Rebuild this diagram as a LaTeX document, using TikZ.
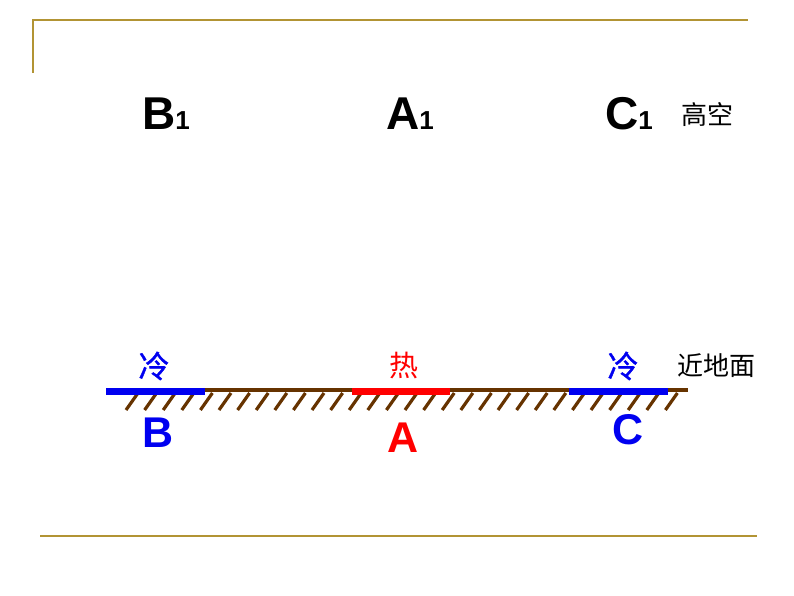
\documentclass[tikz,border=0pt]{standalone}
\usepackage{fontspec}
\setmainfont{Liberation Sans}
\newfontfamily\cjk{Noto Sans CJK SC}
\newfontfamily\cjkbold[FakeBold=1.2]{Noto Sans CJK SC}
\usepackage{tikz}
\usetikzlibrary{positioning}
\definecolor{FrameGold}{RGB}{178,148,52}
\definecolor{GroundBrown}{RGB}{102,51,0}
\definecolor{ColdBlue}{RGB}{0,0,240}
\definecolor{HotRed}{RGB}{255,0,0}
\pgfdeclarelayer{background}
\pgfsetlayers{background,main}

\begin{document}
\begin{tikzpicture}[x=1pt, y=-1pt]

    \useasboundingbox (0,0) rectangle (794,596);

    % Frame of the slide
    \tikzset{fr/.style={draw=FrameGold, line width=1.6pt}}

    % Upper level labels
    \tikzset{up/.style={inner sep = 0pt, font = \fontsize{46}{46}\selectfont\bfseries}}
    \tikzset{cn/.style={inner sep = 0pt, font = \fontsize{26}{26}\selectfont\cjk}}

    % Ground labels
    \tikzset{lowC/.style={inner sep = 0pt, text = ColdBlue, font = \fontsize{43}{43}\selectfont\bfseries}}
    \tikzset{lowH/.style={lowC, text = HotRed}}
    \tikzset{tC/.style={inner sep = 0pt, text = ColdBlue, font = \fontsize{31}{31}\selectfont\cjkbold}}
    \tikzset{tH/.style={tC, text = HotRed, font = \fontsize{29}{29}\selectfont\cjk}}

    % Ground and surfaces
    \tikzset{gr/.style={draw=GroundBrown, line width=4pt}}
    \tikzset{ht/.style={draw=GroundBrown, line width=3.2pt}}
    \tikzset{sC/.style={draw=ColdBlue, line width=7pt}}
    \tikzset{sH/.style={draw=HotRed, line width=7pt}}

    % Frame corners
    \coordinate (fTL) at (33, 20);
    \coordinate (fTR) at (748, 20);
    \coordinate (fBL) at (33, 73);
    \coordinate (lL) at (40, 536);
    \coordinate (lR) at (757, 536);

    % Upper level
    \node (b1) [up] at (166, 114) {B{\fontsize{26}{26}\selectfont 1}};
    \node (a1) [up] at (410, 114) {A{\fontsize{26}{26}\selectfont 1}};
    \node (c1) [up] at (629, 114) {C{\fontsize{26}{26}\selectfont 1}};
    \node (gaokong) [cn] at (707, 115) {高空};

    % Ground level
    \coordinate (gL) at (107, 390);
    \coordinate (gR) at (688, 390);
    \coordinate (bL) at (106, 391);
    \coordinate (bR) at (205, 391);
    \coordinate (aL) at (352, 391);
    \coordinate (aR) at (450, 391);
    \coordinate (cL) at (569, 391);
    \coordinate (cR) at (668, 391);

    \node (lengB) [tC] at (154, 366) {冷};
    \node (re) [tH] at (404, 366) {热};
    \node (lengC) [tC] at (623, 366) {冷};
    \node (jindimian) [cn] at (716, 366) {近地面};

    \node (b) [lowC] at (158, 433) {B};
    \node (a) [lowH] at (403, 438) {A};
    \node (c) [lowC] at (628, 430) {C};

    % Background image
    \begin{pgfonlayer}{background}

    	% Frame
    	\path[fr] (fBL) -- (fTL) -- (fTR);
    	\path[fr] (lL) -- (lR);

    	% Ground with hatching
    	\path[gr] (gL) -- (gR);
    	\foreach \i in {0,...,29}
    		\path[ht] (126 + 18.6*\i, 410) -- ++(12, -17);

    \end{pgfonlayer}

    % Cold and hot surfaces
    \path[sC] (bL) -- (bR);
    \path[sH] (aL) -- (aR);
    \path[sC] (cL) -- (cR);

\end{tikzpicture}
\end{document}
